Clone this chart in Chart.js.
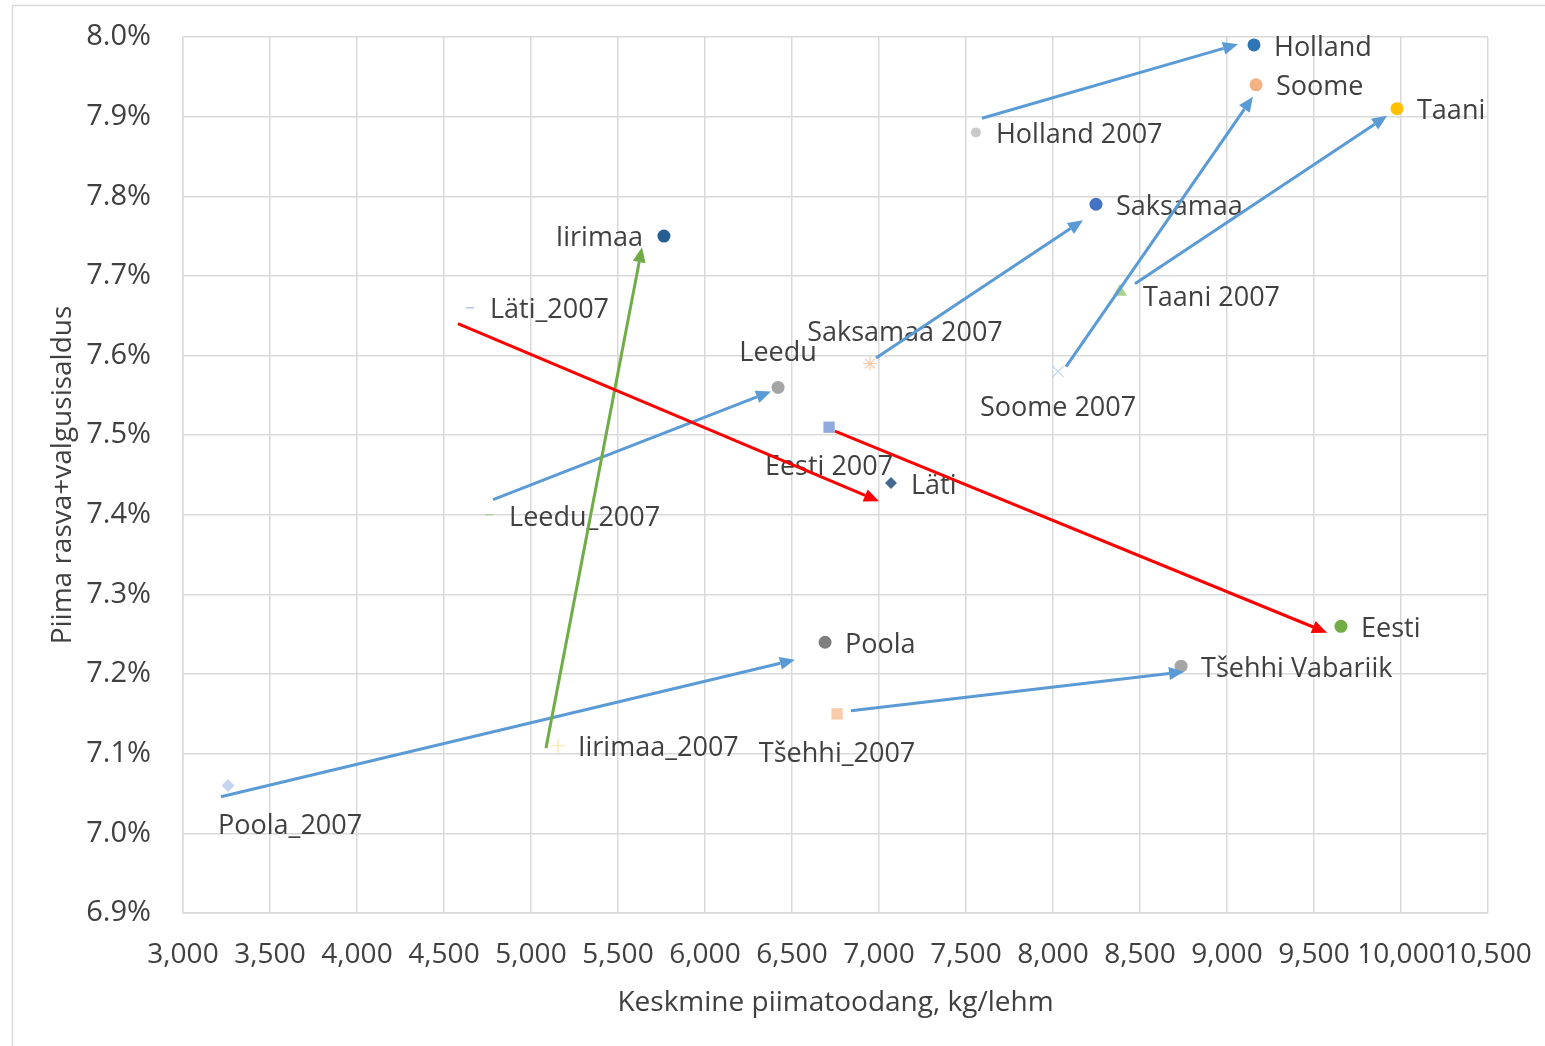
<!DOCTYPE html>
<html>
<head>
<meta charset="utf-8">
<script src="https://cdn.jsdelivr.net/npm/chart.js@4.4.1/dist/chart.umd.min.js"></script>
<style>
  html, body { margin: 0; padding: 0; background: #ffffff; }
  #wrap { position: relative; width: 1545px; height: 1046px; }
</style>
</head>
<body>
<div id="wrap"><canvas id="chart" width="1545" height="1046"></canvas></div>
<script>
// Average milk yield (kg/cow) and fat+protein content (%) per country
const countries = ['Holland', 'Soome', 'Taani', 'Holland 2007', 'Saksamaa', 'Iirimaa', 'Läti_2007',
  'Taani 2007', 'Saksamaa 2007', 'Soome 2007', 'Leedu', 'Eesti 2007', 'Läti', 'Leedu_2007', 'Eesti',
  'Poola', 'Tšehhi Vabariik', 'Tšehhi_2007', 'Iirimaa_2007', 'Poola_2007'];
const milkYield = [9155, 9167, 9977, 7557, 8247, 5764, 4649,
  8385, 6948, 8029, 6420, 6713, 7069, 4759, 9655,
  6690, 8736, 6759, 5155, 3259];
const fatProtein = [7.99, 7.94, 7.91, 7.88, 7.79, 7.75, 7.66,
  7.68, 7.59, 7.58, 7.56, 7.51, 7.44, 7.40, 7.26,
  7.24, 7.21, 7.15, 7.11, 7.06];

// Change arrows 2007 -> latest year (axis units)
const arrowFromX = [7592, 8075, 8471, 6983, 4782, 3218, 6839, 5086, 4580, 6747];
const arrowFromY = [7.898, 7.586, 7.690, 7.597, 7.419, 7.046, 7.154, 7.107, 7.640, 7.505];
const arrowToX   = [9063, 9149, 9920, 8172, 6379, 6517, 8753, 5638, 7000, 9575];
const arrowToY   = [7.991, 7.925, 7.901, 7.770, 7.555, 7.218, 7.203, 7.736, 7.417, 7.252];

// Axis ticks
const xTicksMin = 3000, xTicksMax = 10500, xTicksStep = 500;
const yTicksMin = 6.9, yTicksMax = 8.0, yTicksStep = 0.1;

// ---- styling ----
const BLUE = '#5b9bd5', GREEN = '#70ad47', RED = '#ff0000';
const arrowColors = [BLUE, BLUE, BLUE, BLUE, BLUE, BLUE, BLUE, GREEN, RED, RED];

const markerStyle = [
  ['circle', '#2e75b6', 6.5], ['circle', '#f4b183', 6.5], ['circle', '#ffc000', 6.5], ['circle', '#c9c9c9', 5],
  ['circle', '#4472c4', 6.5], ['circle', '#255e91', 6.5], ['line', '#a9b5dc', 4],
  ['triangle', '#a9d18e', 8], ['star', '#f8cbad', 7], ['crossRot', '#bdd7ee', 8], ['circle', '#a5a5a5', 6.5],
  ['rect', '#8faadc', 8], ['rectRot', '#44688f', 6], ['line', '#a9d18e', 4], ['circle', '#70ad47', 6.5],
  ['circle', '#7f7f7f', 6.5], ['circle', '#a5a5a5', 6.5], ['rect', '#f8cbad', 8], ['cross', '#ffe699', 7],
  ['rectRot', '#c5d5ee', 6.5]
];
const R = [20, 3, 'left'];
const labelOffsets = [
  R, R, R, R, R, [-21, 2, 'right'], R,
  [23, 6, 'left'], [35, -30, 'center'], [0, 37, 'center'], [0, -34, 'center'],
  [0, 40, 'center'], R, R, R,
  R, R, [0, 40, 'center'], R, [62, 41, 'center']
];

const FONT = "'Open Sans', 'Noto Sans', sans-serif";
const TEXT = '#404040';
const filled = s => ['circle', 'rect', 'rectRot', 'triangle'].includes(s);

const frame = {
  id: 'frame',
  beforeDraw(chart) {
    const ctx = chart.ctx;
    ctx.save();
    ctx.fillStyle = '#ffffff';
    ctx.fillRect(0, 0, chart.width, chart.height);
    ctx.strokeStyle = '#d9d9d9';
    ctx.lineWidth = 1.5;
    ctx.strokeRect(12.5, 5.5, chart.width + 20, chart.height + 20);
    ctx.restore();
  }
};

const pointLabels = {
  id: 'pointLabels',
  afterDatasetsDraw(chart) {
    const ctx = chart.ctx;
    const meta = chart.getDatasetMeta(0);
    ctx.save();
    ctx.font = '27px ' + FONT;
    ctx.fillStyle = TEXT;
    ctx.textBaseline = 'middle';
    meta.data.forEach((pt, i) => {
      const [dx, dy, align] = labelOffsets[i];
      ctx.textAlign = align;
      ctx.fillText(countries[i], pt.x + dx, pt.y + dy);
    });
    ctx.restore();
  }
};

const arrows = {
  id: 'arrows',
  afterDraw(chart) {
    const ctx = chart.ctx;
    const xs = chart.scales.x, ys = chart.scales.y;
    ctx.save();
    arrowFromX.forEach((_, i) => {
      const x1 = xs.getPixelForValue(arrowFromX[i]);
      const y1 = ys.getPixelForValue(arrowFromY[i]);
      const x2 = xs.getPixelForValue(arrowToX[i]);
      const y2 = ys.getPixelForValue(arrowToY[i]);
      const ang = Math.atan2(y2 - y1, x2 - x1);
      const headLen = 15, headHalf = 6.5;
      const bx = x2 - Math.cos(ang) * headLen, by = y2 - Math.sin(ang) * headLen;
      ctx.strokeStyle = arrowColors[i];
      ctx.fillStyle = arrowColors[i];
      ctx.lineWidth = 3;
      ctx.lineCap = 'butt';
      ctx.beginPath();
      ctx.moveTo(x1, y1);
      ctx.lineTo(bx, by);
      ctx.stroke();
      ctx.beginPath();
      ctx.moveTo(x2, y2);
      ctx.lineTo(bx + Math.sin(ang) * headHalf, by - Math.cos(ang) * headHalf);
      ctx.lineTo(bx - Math.sin(ang) * headHalf, by + Math.cos(ang) * headHalf);
      ctx.closePath();
      ctx.fill();
    });
    ctx.restore();
  }
};

new Chart(document.getElementById('chart'), {
  type: 'scatter',
  data: {
    datasets: [{
      label: 'Piimatoodang ja rasva+valgusisaldus',
      data: milkYield.map((x, i) => ({ x: x, y: fatProtein[i] })),
      pointStyle: markerStyle.map(m => m[0]),
      pointRadius: markerStyle.map(m => m[2]),
      pointHoverRadius: markerStyle.map(m => m[2]),
      backgroundColor: markerStyle.map(m => m[1]),
      borderColor: markerStyle.map(m => m[1]),
      borderWidth: markerStyle.map(m => filled(m[0]) ? 0 : 1.2),
      clip: false
    }]
  },
  options: {
    responsive: false,
    animation: false,
    devicePixelRatio: 1,
    layout: { padding: { left: 0, top: 37, right: 57, bottom: 0 } },
    plugins: { legend: { display: false }, tooltip: { enabled: false } },
    scales: {
      x: {
        type: 'linear',
        min: xTicksMin, max: xTicksMax,
        afterFit(scale) {
          scale.height = 133;
          scale.paddingLeft = 0;
          scale.paddingRight = 0;
        },
        grid: { color: '#d9d9d9', lineWidth: 1.5, drawTicks: false },
        border: { color: '#d9d9d9', width: 1.5 },
        ticks: {
          stepSize: xTicksStep, autoSkip: false, maxRotation: 0, padding: 25,
          color: TEXT, font: { family: FONT, size: 28 },
          callback: v => v.toLocaleString('en-US')
        },
        title: {
          display: true, text: 'Keskmine piimatoodang, kg/lehm',
          color: TEXT, font: { family: FONT, size: 28 },
          padding: { top: 0, bottom: 26 }
        }
      },
      y: {
        type: 'linear',
        min: yTicksMin, max: yTicksMax,
        afterFit(scale) {
          scale.width = 183;
          scale.paddingTop = 0;
          scale.paddingBottom = 0;
        },
        grid: { color: '#d9d9d9', lineWidth: 1.5, drawTicks: false },
        border: { color: '#d9d9d9', width: 1.5 },
        ticks: {
          stepSize: yTicksStep, autoSkip: false, padding: 32,
          color: TEXT, font: { family: FONT, size: 29 },
          callback: v => v.toFixed(1) + '%'
        },
        title: {
          display: true, text: 'Piima rasva+valgusisaldus',
          color: TEXT, font: { family: FONT, size: 28 },
          padding: { top: 46, bottom: 0 }
        }
      }
    }
  },
  plugins: [frame, pointLabels, arrows]
});
</script>
</body>
</html>
